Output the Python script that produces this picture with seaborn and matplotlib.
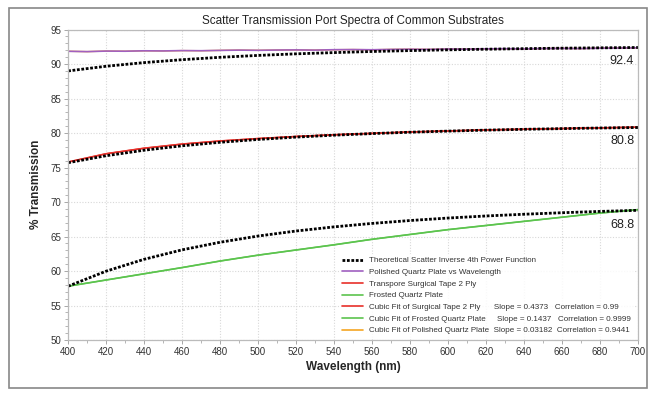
import matplotlib
matplotlib.use("Agg")
import matplotlib.pyplot as plt
import seaborn as sns
import numpy as np
from matplotlib.ticker import MultipleLocator
from matplotlib.patches import Rectangle
from matplotlib.lines import Line2D

# ---------------- data ----------------
wl20 = [400, 420, 440, 460, 480, 500, 520, 540, 560, 580, 600, 620, 640, 660, 680, 700]
wl10 = list(range(400, 701, 10))

polished = [91.85, 91.80, 91.88, 91.86, 91.92, 91.90, 91.95, 91.93, 91.98, 92.02,
            91.99, 92.03, 92.05, 92.02, 92.08, 92.10, 92.07, 92.12, 92.15, 92.12,
            92.18, 92.16, 92.20, 92.22, 92.19, 92.25, 92.27, 92.24, 92.30, 92.32, 92.35]
theo_polished = [89.00, 89.68, 90.21, 90.63, 90.98, 91.25, 91.48, 91.66, 91.82, 91.95,
                 92.06, 92.15, 92.23, 92.30, 92.35, 92.40]

tape = [75.80, 77.00, 77.80, 78.40, 78.85, 79.20, 79.50, 79.75, 79.95, 80.15,
        80.30, 80.45, 80.55, 80.65, 80.75, 80.85]
theo_tape = [75.70, 76.71, 77.51, 78.15, 78.66, 79.07, 79.41, 79.69, 79.92, 80.12,
             80.28, 80.42, 80.54, 80.64, 80.73, 80.80]

frosted = [57.80, 58.70, 59.60, 60.50, 61.45, 62.30, 63.05, 63.80, 64.60, 65.30,
           66.00, 66.60, 67.20, 67.80, 68.40, 68.90]
theo_frosted = [57.80, 59.98, 61.70, 63.07, 64.17, 65.07, 65.80, 66.40, 66.90, 67.32,
                67.68, 67.98, 68.23, 68.45, 68.64, 68.80]

end_labels = ["92.4", "80.8", "68.8"]
end_label_y = [90.4, 78.8, 66.7]

labels = ["Theoretical Scatter Inverse 4th Power Function",
          "Polished Quartz Plate vs Wavelength",
          "Transpore Surgical Tape 2 Ply",
          "Frosted Quartz Plate",
          "Cubic Fit of Surgical Tape 2 Ply      Slope = 0.4373   Correlation = 0.99",
          "Cubic Fit of Frosted Quartz Plate     Slope = 0.1437   Correlation = 0.9999",
          "Cubic Fit of Polished Quartz Plate  Slope = 0.03182  Correlation = 0.9441"]

# ---------------- style ----------------
sns.set_style("white")
plt.rcParams['font.family'] = ['Liberation Sans', 'DejaVu Sans']

fig = plt.figure(figsize=(6.55, 3.94), dpi=100)
ax = fig.add_axes([0.104, 0.137, 0.870, 0.788])

purple = "#a060c0"
red = "#e8302a"
green = "#5cc44e"
orange = "#f5a623"
dot_kw = dict(color="black", linewidth=2.0, dashes=(1, 0.6))

# fits (drawn beneath)
sns.lineplot(x=wl10, y=polished, ax=ax, color=orange, linewidth=1.0, legend=False)
# data
sns.lineplot(x=wl10, y=polished, ax=ax, color=purple, linewidth=1.2, legend=False)
sns.lineplot(x=wl20, y=tape, ax=ax, color=red, linewidth=1.2, legend=False)
sns.lineplot(x=wl20, y=frosted, ax=ax, color=green, linewidth=1.2, legend=False)
sns.lineplot(x=wl20, y=tape, ax=ax, color=red, linewidth=1.0, legend=False)
sns.lineplot(x=wl20, y=frosted, ax=ax, color=green, linewidth=1.0, legend=False)
# theoretical
for s in (theo_polished, theo_tape, theo_frosted):
    ax.plot(wl20, s, **dot_kw)

for t, yy in zip(end_labels, end_label_y):
    ax.text(698, yy, t, ha="right", va="center", fontsize=9, color="#222222")

ax.set_xlim(400, 700)
ax.set_ylim(50, 95)
ax.xaxis.set_major_locator(MultipleLocator(20))
ax.xaxis.set_minor_locator(MultipleLocator(10))
ax.yaxis.set_major_locator(MultipleLocator(5))
ax.yaxis.set_minor_locator(MultipleLocator(1))
ax.grid(True, which="major", linestyle=(0, (1, 1.5)), color="#d8d8d8", linewidth=0.8)
ax.tick_params(axis="both", which="major", direction="out", length=3, width=0.6,
               color="#999999", labelsize=7, labelcolor="#333333", pad=2, left=True, bottom=True)
ax.tick_params(axis="both", which="minor", direction="out", length=2, width=0.5,
               color="#999999", left=True, bottom=True)
for sp in ax.spines.values():
    sp.set_color("#bbbbbb")
    sp.set_linewidth(0.9)

ax.set_title("Scatter Transmission Port Spectra of Common Substrates", fontsize=8.5,
             color="#222222", pad=4)
ax.set_xlabel("Wavelength (nm)", fontsize=8.5, fontweight="bold", labelpad=3)
ax.set_ylabel("% Transmission", fontsize=8.5, fontweight="bold", labelpad=6)

handles = [Line2D([], [], **dot_kw),
           Line2D([], [], color=purple, linewidth=1.2),
           Line2D([], [], color=red, linewidth=1.2),
           Line2D([], [], color=green, linewidth=1.2),
           Line2D([], [], color=red, linewidth=1.2),
           Line2D([], [], color=green, linewidth=1.2),
           Line2D([], [], color=orange, linewidth=1.2)]
leg = ax.legend(handles, labels, loc="lower right", fontsize=5.8, frameon=True,
                facecolor="white", edgecolor="none", framealpha=0.85,
                handlelength=2.6, handletextpad=0.8, labelspacing=0.5,
                borderaxespad=0.3, bbox_to_anchor=(0.998, 0.0))
for t in leg.get_texts():
    t.set_color("#333333")

# figure frame
fig.patches.append(Rectangle((0.013, 0.015), 0.975, 0.965, transform=fig.transFigure,
                             fill=False, edgecolor="#888888", linewidth=1.2))

fig.savefig("out.png", dpi=100)
